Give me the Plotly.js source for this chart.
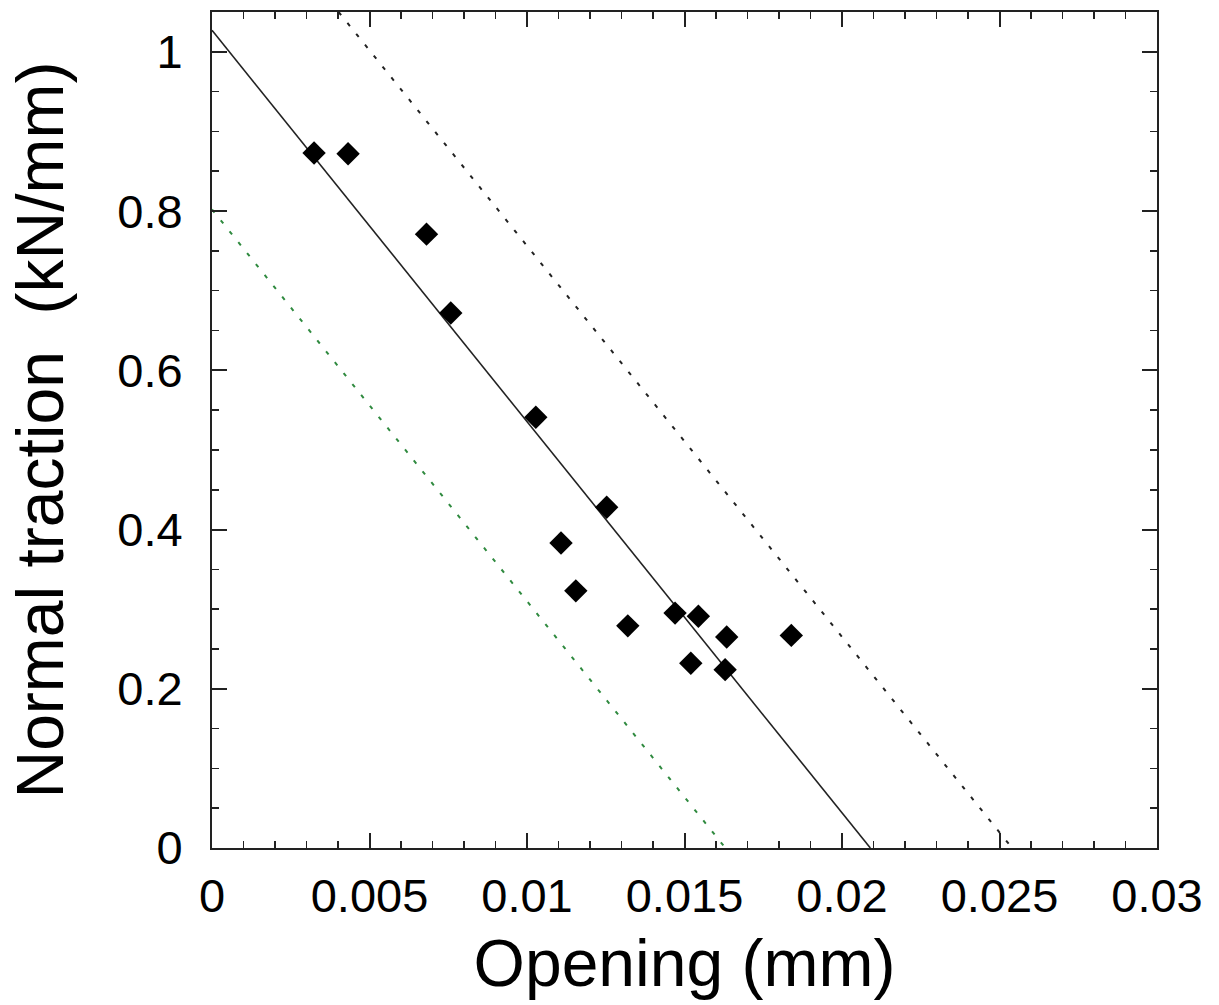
<!DOCTYPE html>
<html>
<head>
<meta charset="utf-8">
<script src="https://cdn.plot.ly/plotly-3.0.1.min.js"></script>
<style>
  html, body { margin: 0; padding: 0; background: #fff; }
  #chart { width: 1219px; height: 1005px; }
</style>
</head>
<body>
<div id="chart"></div>
<script>
// Measured data points: opening (mm) vs normal traction (kN/mm)
const opening = [0.00324, 0.00432, 0.00681, 0.00758, 0.01028, 0.01253, 0.01108, 0.01155, 0.01320, 0.01470, 0.01544, 0.01634, 0.01520, 0.01629, 0.01839];
const traction = [0.873, 0.872, 0.771, 0.672, 0.541, 0.428, 0.383, 0.323, 0.279, 0.295, 0.291, 0.265, 0.232, 0.224, 0.267];

// Fitted line (solid)
const fitX = [0, 0.0209];
const fitY = [1.027, 0];

// Upper bound (black dotted)
const upperX = [0.00402, 0.0254];
const upperY = [1.05, 0];

// Lower bound (green dotted)
const lowerX = [0, 0.0163];
const lowerY = [0.802, 0];

// Axis ticks
const xTickVals = [0, 0.005, 0.01, 0.015, 0.02, 0.025, 0.03];
const xTickText = ["0", "0.005", "0.01", "0.015", "0.02", "0.025", "0.03"];
const yTickVals = [0, 0.2, 0.4, 0.6, 0.8, 1];
const yTickText = ["0", "0.2", "0.4", "0.6", "0.8", "1"];

const traces = [
  {x: lowerX, y: lowerY, mode: 'lines', line: {color: '#2f8a3f', width: 2, dash: '4px,10px'}, hoverinfo: 'skip'},
  {x: upperX, y: upperY, mode: 'lines', line: {color: '#222', width: 2, dash: '4px,10px'}, hoverinfo: 'skip'},
  {x: fitX, y: fitY, mode: 'lines', line: {color: '#222', width: 1.6}, hoverinfo: 'skip'},
  {x: opening, y: traction, mode: 'markers', marker: {symbol: 'diamond', size: 18, color: '#000'}}
];

const font = "'Liberation Sans', Arial, Helvetica, sans-serif";

const layout = {
  width: 1219, height: 1005,
  margin: {l: 212, r: 62, t: 12, b: 157},
  paper_bgcolor: '#fff', plot_bgcolor: '#fff',
  showlegend: false,
  font: {family: font, color: '#000'},
  xaxis: {
    range: [0, 0.03],
    tickmode: 'array', tickvals: xTickVals, ticktext: xTickText,
    ticks: 'inside', ticklen: 15, tickwidth: 2, tickcolor: '#222',
    minor: {dtick: 0.001, ticks: 'inside', ticklen: 7, tickwidth: 1.6, tickcolor: '#222', showgrid: false},
    showline: true, linecolor: '#222', linewidth: 2, mirror: 'allticks',
    showgrid: false, zeroline: false,
    tickfont: {size: 47, family: font, color: '#000'},
    ticklabelstandoff: 6,
    title: {text: 'Opening (mm)', font: {size: 66, family: font, color: '#000'}, standoff: 18}
  },
  yaxis: {
    range: [0, 1.05],
    tickmode: 'array', tickvals: yTickVals, ticktext: yTickText,
    ticks: 'inside', ticklen: 15, tickwidth: 2, tickcolor: '#222',
    minor: {dtick: 0.05, ticks: 'inside', ticklen: 7, tickwidth: 1.6, tickcolor: '#222', showgrid: false},
    showline: true, linecolor: '#222', linewidth: 2, mirror: 'allticks',
    showgrid: false, zeroline: false,
    tickfont: {size: 47, family: font, color: '#000'},
    ticklabelstandoff: 18,
    title: {text: 'Normal traction\u00a0 (kN/mm)', font: {size: 66, family: font, color: '#000'}, standoff: 32}
  }
};

Plotly.newPlot('chart', traces, layout, {staticPlot: true, displayModeBar: false});
</script>
</body>
</html>
